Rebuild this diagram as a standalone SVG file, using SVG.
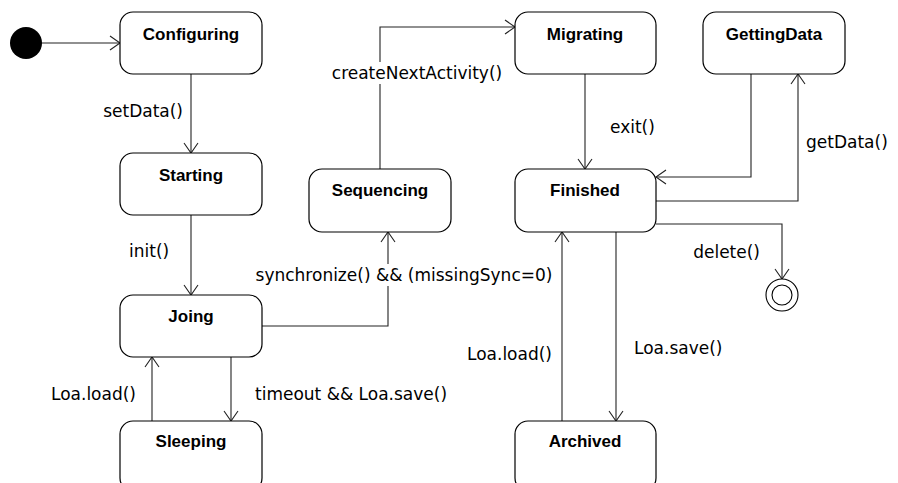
<svg xmlns="http://www.w3.org/2000/svg" width="898" height="483" viewBox="0 0 898 483">
<style>
.box{fill:#fff;stroke:#000;stroke-width:1.2}
.nt{font-family:"Liberation Sans",Arial,sans-serif;font-weight:bold;font-size:17px;text-anchor:middle;fill:#000}
.lb{font-family:"DejaVu Sans","Liberation Sans",sans-serif;font-size:17px;fill:#000}
.ln{fill:none;stroke:#222;stroke-width:1.1;marker-end:url(#arr)}
.bg{fill:#fff}
</style>
<defs>
<marker id="arr" markerUnits="userSpaceOnUse" markerWidth="12" markerHeight="16" viewBox="0 0 12 16" refX="11" refY="8" orient="auto">
<path d="M1,1 L11,8 L1,15" fill="none" stroke="#222" stroke-width="1.1"/>
</marker>
</defs>
<g id="connectors">
<line class="ln" x1="42" y1="43" x2="120" y2="43"/>
<line class="ln" x1="191" y1="74" x2="191" y2="153"/>
<line class="ln" x1="191" y1="215" x2="191" y2="295"/>
<line class="ln" x1="231" y1="357" x2="231" y2="421"/>
<line class="ln" x1="152" y1="421" x2="152" y2="357"/>
<polyline class="ln" points="262,326 388,326 388,232"/>
<polyline class="ln" points="380,169 380,27 515,27"/>
<line class="ln" x1="585" y1="74" x2="585" y2="169"/>
<polyline class="ln" points="751,74 751,177 656,177"/>
<polyline class="ln" points="656,201 798,201 798,74"/>
<polyline class="ln" points="656,224 782,224 782,279"/>
<line class="ln" x1="616" y1="232" x2="616" y2="421"/>
<line class="ln" x1="562" y1="421" x2="562" y2="232"/>
<rect class="bg" x="323" y="62" width="190" height="22"/>
<rect class="bg" x="250" y="264" width="310" height="22"/>
<text class="lb" x="183" y="117" text-anchor="end">setData()</text>
<text class="lb" x="129" y="257">init()</text>
<text class="lb" x="417" y="79" text-anchor="middle">createNextActivity()</text>
<text class="lb" x="610" y="133">exit()</text>
<text class="lb" x="806" y="148">getData()</text>
<text class="lb" x="404" y="281" text-anchor="middle">synchronize() &amp;&amp; (missingSync=0)</text>
<text class="lb" x="760" y="258" text-anchor="end">delete()</text>
<text class="lb" x="136" y="400" text-anchor="end">Loa.load()</text>
<text class="lb" x="255" y="400">timeout &amp;&amp; Loa.save()</text>
<text class="lb" x="552" y="360" text-anchor="end">Loa.load()</text>
<text class="lb" x="634" y="354">Loa.save()</text>
</g>
<g id="initial"><circle cx="26" cy="43" r="16" fill="#000"/></g>
<g id="final"><circle cx="782" cy="295" r="16" fill="#fff" stroke="#000" stroke-width="1.1"/><circle cx="782" cy="295" r="10" fill="#fff" stroke="#000" stroke-width="1.1"/></g>
<g id="Configuring"><rect class="box" x="120" y="12" width="142" height="62" rx="13"/><text class="nt" x="191" y="40">Configuring</text></g>
<g id="Starting"><rect class="box" x="120" y="153" width="142" height="62" rx="13"/><text class="nt" x="191" y="181">Starting</text></g>
<g id="Joing"><rect class="box" x="120" y="295" width="142" height="62" rx="13"/><text class="nt" x="191" y="322">Joing</text></g>
<g id="Sleeping"><rect class="box" x="120" y="421" width="142" height="70" rx="13"/><text class="nt" x="191" y="447">Sleeping</text></g>
<g id="Sequencing"><rect class="box" x="309" y="169" width="142" height="63" rx="13"/><text class="nt" x="380" y="196">Sequencing</text></g>
<g id="Migrating"><rect class="box" x="515" y="12" width="141" height="62" rx="13"/><text class="nt" x="585" y="40">Migrating</text></g>
<g id="GettingData"><rect class="box" x="703" y="12" width="142" height="62" rx="13"/><text class="nt" x="774" y="40">GettingData</text></g>
<g id="Finished"><rect class="box" x="515" y="169" width="141" height="63" rx="13"/><text class="nt" x="585" y="196">Finished</text></g>
<g id="Archived"><rect class="box" x="515" y="421" width="141" height="70" rx="13"/><text class="nt" x="585" y="447">Archived</text></g>
</svg>
